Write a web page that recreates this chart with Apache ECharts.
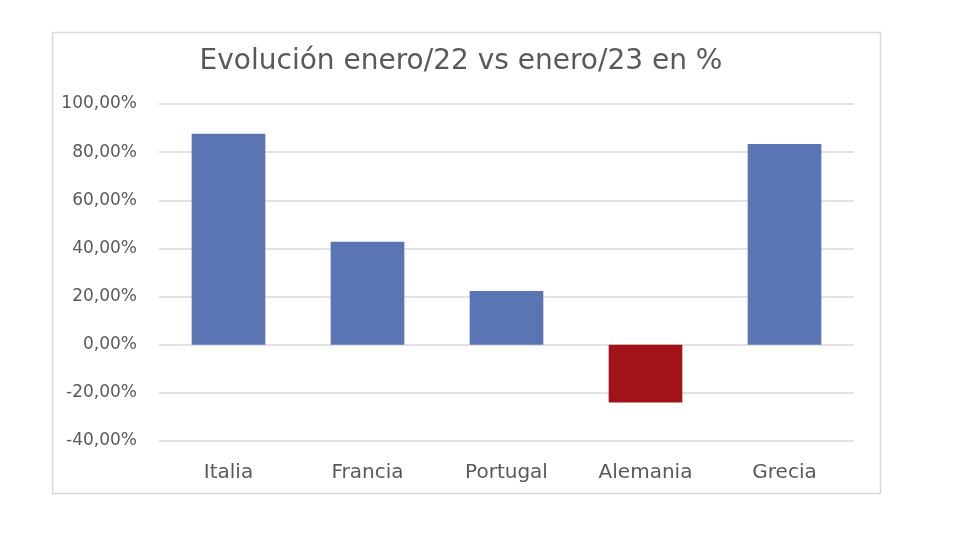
<!DOCTYPE html>
<html>
<head>
<meta charset="utf-8">
<script src="https://cdn.jsdelivr.net/npm/echarts@6/dist/echarts.min.js"></script>
<style>html,body{margin:0;padding:0;background:#fff}#c{width:980px;height:560px}</style>
</head>
<body>
<div id="c"></div>
<script>
const categories = ['Italia', 'Francia', 'Portugal', 'Alemania', 'Grecia'];
const values = [87.6, 42.8, 22.3, -24.0, 83.4];
const titleText = 'Evolución enero/22 vs enero/23 en %';

const FONT = 'DejaVu Sans';
const chart = echarts.init(document.getElementById('c'));
chart.setOption({
  animation: false,
  title: {
    text: titleText,
    left: 456, top: 43, textAlign: 'center',
    textStyle: { fontFamily: FONT, fontSize: 28, fontWeight: 'normal', color: '#595959' }
  },
  graphic: [{
    type: 'rect', shape: { x: 52.5, y: 32.5, width: 828, height: 461 },
    style: { fill: 'none', stroke: '#d9d9d9', lineWidth: 1.5 }, silent: true, z: -1
  }],
  grid: { left: 159, right: 126, top: 104, bottom: 119, containLabel: false },
  xAxis: {
    type: 'category', data: categories,
    axisLine: { show: false }, axisTick: { show: false },
    axisLabel: { color: '#595959', fontFamily: FONT, fontSize: 20, margin: 22 }
  },
  yAxis: {
    type: 'value', min: -40, max: 100, interval: 20,
    axisLine: { show: false }, axisTick: { show: false },
    splitLine: { lineStyle: { color: '#d9d9d9', width: 1.5 } },
    axisLabel: { color: '#595959', fontFamily: FONT, fontSize: 17, margin: 22,
      formatter: v => v.toFixed(2).replace('.', ',') + '%' }
  },
  series: [{
    type: 'bar', barWidth: '53%',
    data: values.map(v => ({ value: v, itemStyle: { color: v < 0 ? '#a11219' : '#5b74b4' } }))
  }]
});
</script>
</body>
</html>
